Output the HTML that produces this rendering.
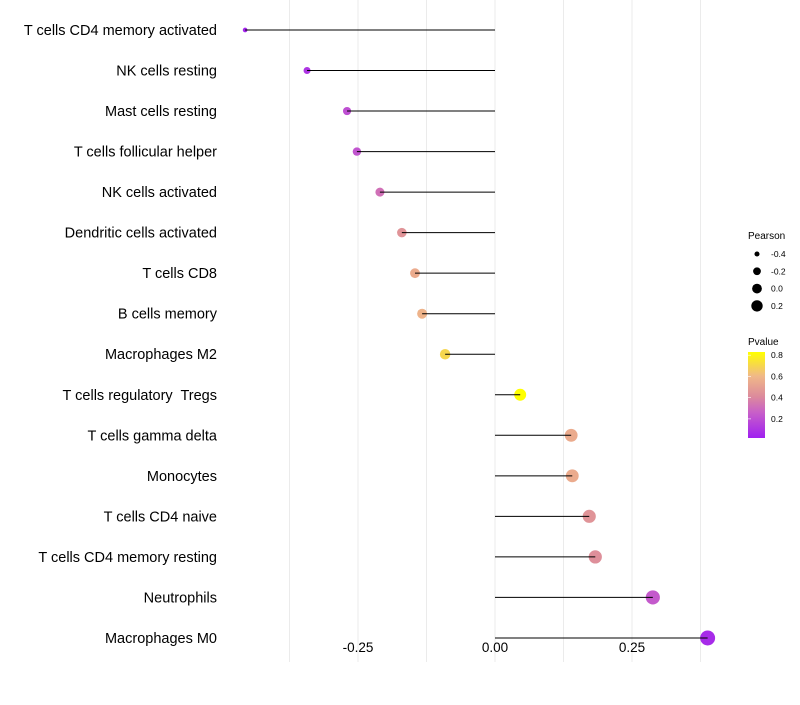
<!DOCTYPE html>
<html><head><meta charset="utf-8"><style>
body{margin:0;background:#fff;}
svg text{font-family:"Liberation Sans",sans-serif;white-space:pre;}
</style></head><body>
<svg id="chart" width="800" height="700">
<defs>
<linearGradient id="pgrad" x1="0" y1="1" x2="0" y2="0">
<stop offset="0" stop-color="#a020f0"/>
<stop offset="0.3" stop-color="#c860c8"/>
<stop offset="0.48" stop-color="#dc8a9c"/>
<stop offset="0.72" stop-color="#f0b888"/>
<stop offset="1" stop-color="#ffff00"/>
</linearGradient>
</defs>
<g id="grid"></g>
<g id="marks"></g>
<g id="ylabels"></g>
<g id="xlabels"></g>
<g>
<text x="748" y="239" font-size="10">Pearson</text>
<g id="sizeLegend"></g>
</g>
<g>
<text x="748" y="345" font-size="10">Pvalue</text>
<rect x="748" y="352" width="17" height="86" fill="url(#pgrad)"/>
<g id="colorLegend"></g>
</g>
</svg>
<script>
const categories=["T cells CD4 memory activated","NK cells resting","Mast cells resting","T cells follicular helper","NK cells activated","Dendritic cells activated","T cells CD8","B cells memory","Macrophages M2","T cells regulatory  Tregs","T cells gamma delta","Monocytes","T cells CD4 naive","T cells CD4 memory resting","Neutrophils","Macrophages M0"];
const pearson=[-0.456,-0.343,-0.270,-0.252,-0.210,-0.170,-0.146,-0.133,-0.091,0.046,0.139,0.141,0.172,0.183,0.288,0.388];
const pvalue=[0.04,0.10,0.20,0.22,0.32,0.45,0.55,0.58,0.70,0.83,0.55,0.55,0.45,0.43,0.24,0.06];
const xTicks=[-0.25,0,0.25];
const xTickLabels=["-0.25","0.00","0.25"];
const xGrid=[-0.375,-0.25,-0.125,0,0.125,0.25,0.375];
const sizeLegendVals=[-0.4,-0.2,0.0,0.2];
const sizeLegendLabels=["-0.4","-0.2","0.0","0.2"];
const colorLegendVals=[0.2,0.4,0.6,0.8];
const colorLegendLabels=["0.2","0.4","0.6","0.8"];

const NS="http://www.w3.org/2000/svg";
const X=v=>495+v*548;
const Y=i=>30+i*40.53;
const R=v=>Math.sqrt(Math.max(2.2,12.25+60*(v+0.343)));
const stops=[[0,[160,32,240]],[0.3,[200,96,200]],[0.48,[220,138,156]],[0.72,[240,184,136]],[1,[255,255,0]]];
const cmin=0.02,cmax=0.83;
function C(p){let t=(p-cmin)/(cmax-cmin);t=Math.max(0,Math.min(1,t));
for(let k=1;k<stops.length;k++){if(t<=stops[k][0]){const a=stops[k-1],b=stops[k];const f=(t-a[0])/(b[0]-a[0]);
const c=a[1].map((v,j)=>Math.round(v+(b[1][j]-v)*f));return `rgb(${c})`;}}return "rgb(255,255,0)";}
const CY=p=>438-(p-cmin)/(cmax-cmin)*86;
function mk(tag,attrs,parent){const e=document.createElementNS(NS,tag);for(const k in attrs)e.setAttribute(k,attrs[k]);parent.appendChild(e);return e;}

const grid=document.getElementById('grid');
xGrid.forEach(v=>{const l=mk('line',{x1:X(v),x2:X(v),y1:0,y2:662,stroke:'#ebebeb','stroke-width':1},grid);

});

const marks=document.getElementById('marks');
const yl=document.getElementById('ylabels');
categories.forEach((c,i)=>{
const pt=mk('circle',{cx:X(pearson[i]),cy:Y(i),r:R(pearson[i]),fill:C(pvalue[i])},marks);


const sg=mk('line',{x1:X(0),x2:X(pearson[i]),y1:Y(i),y2:Y(i),stroke:'#000','stroke-width':1},marks);


const t=mk('text',{x:217,y:Y(i)+5,'text-anchor':'end','font-size':14.5,fill:'#000'},yl);
t.textContent=c;


});
const xl=document.getElementById('xlabels');
xTicks.forEach((v,i)=>{const t=mk('text',{x:X(v),y:652,'text-anchor':'middle','font-size':13.5,fill:'#000'},xl);
t.textContent=xTickLabels[i];

});

const sl=document.getElementById('sizeLegend');
sizeLegendVals.forEach((v,i)=>{const y=254+i*17.3;
const c=mk('circle',{cx:757,cy:y,r:R(v)*0.85,fill:'#000'},sl);


const t=mk('text',{x:771,y:y+3,'font-size':8.5},sl);t.textContent=sizeLegendLabels[i];

});
const cl=document.getElementById('colorLegend');
colorLegendVals.forEach((v,i)=>{const y=CY(v);
const tk=mk('line',{x1:748,x2:751,y1:y,y2:y,stroke:'#fff','stroke-width':0.6},cl);


const t=mk('text',{x:771,y:y+3,'font-size':8.5},cl);t.textContent=colorLegendLabels[i];

});
</script>
</body></html>
